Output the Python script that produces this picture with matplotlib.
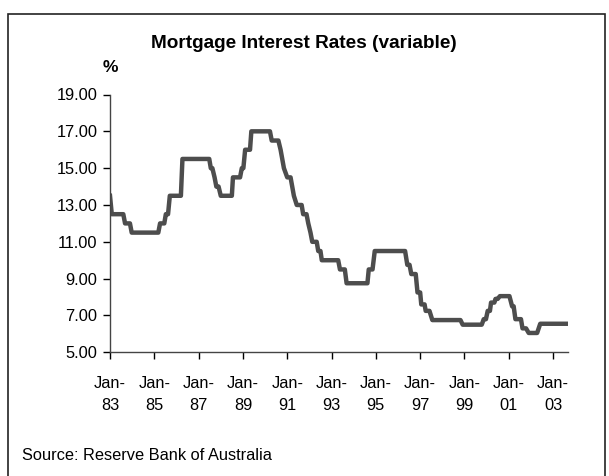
import matplotlib.pyplot as plt
from matplotlib.patches import Rectangle

plt.rcParams['font.family'] = ['Liberation Sans', 'DejaVu Sans']

# decimal year, rate (%)
dates = [1983.0, 1983.08, 1983.6, 1983.68, 1983.9, 1983.98, 1985.18, 1985.26,
         1985.45, 1985.52, 1985.62, 1985.7, 1986.2, 1986.27, 1987.48, 1987.55,
         1987.62, 1987.72, 1987.8, 1987.9, 1988.0, 1988.5, 1988.55, 1988.87,
         1988.95, 1989.02, 1989.1, 1989.32, 1989.38, 1990.22, 1990.3, 1990.6,
         1990.7, 1990.85, 1991.0, 1991.15, 1991.3, 1991.43, 1991.65, 1991.72,
         1991.87, 1991.95, 1992.05, 1992.13, 1992.33, 1992.4, 1992.5, 1992.56,
         1993.3, 1993.38, 1993.6, 1993.68, 1994.62, 1994.68, 1994.85, 1994.95,
         1996.32, 1996.42, 1996.52, 1996.6, 1996.8, 1996.88, 1997.0, 1997.05,
         1997.2, 1997.25, 1997.42, 1997.55, 1998.82, 1998.92, 1999.78, 1999.87,
         1999.97, 2000.05, 2000.15, 2000.2, 2000.35, 2000.4, 2000.5, 2000.6,
         2001.03, 2001.15, 2001.22, 2001.3, 2001.55, 2001.62, 2001.78, 2001.9,
         2002.28, 2002.42, 2003.62]
rates = [13.5, 12.5, 12.5, 12.0, 12.0, 11.5, 11.5, 12.0,
         12.0, 12.5, 12.5, 13.5, 13.5, 15.5, 15.5, 15.0,
         15.0, 14.5, 14.0, 14.0, 13.5, 13.5, 14.5, 14.5,
         15.0, 15.0, 16.0, 16.0, 17.0, 17.0, 16.5, 16.5,
         16.0, 15.0, 14.5, 14.5, 13.5, 13.0, 13.0, 12.5,
         12.5, 12.0, 11.5, 11.0, 11.0, 10.5, 10.5, 10.0,
         10.0, 9.5, 9.5, 8.75, 8.75, 9.5, 9.5, 10.5,
         10.5, 9.75, 9.75, 9.25, 9.25, 8.25, 8.25, 7.6,
         7.6, 7.25, 7.25, 6.75, 6.75, 6.5, 6.5, 6.8,
         6.8, 7.25, 7.25, 7.7, 7.7, 7.9, 7.9, 8.05,
         8.05, 7.5, 7.5, 6.8, 6.8, 6.3, 6.3, 6.05,
         6.05, 6.55, 6.55]

tick_years = [1983, 1985, 1987, 1989, 1991, 1993, 1995, 1997, 1999, 2001, 2003]
tick_labels = ['Jan-\n83', 'Jan-\n85', 'Jan-\n87', 'Jan-\n89', 'Jan-\n91', 'Jan-\n93',
               'Jan-\n95', 'Jan-\n97', 'Jan-\n99', 'Jan-\n01', 'Jan-\n03']
y_ticks = [5, 7, 9, 11, 13, 15, 17, 19]

fig = plt.figure(figsize=(6.09, 4.76), dpi=100)
fig.patches.append(Rectangle((8 / 609, -0.05), 597 / 609, 1.05 - 14 / 476,
                             transform=fig.transFigure, fill=False,
                             edgecolor='#222222', linewidth=1.2))

ax = fig.add_axes([110 / 609, 1 - 352.3 / 476, 457.7 / 609, 257.8 / 476])
ax.plot(dates, rates, color='#4d4d4d', linewidth=3.2, solid_joinstyle='round')

ax.set_xlim(1983.0, 2003.66)
ax.set_ylim(5, 19)
ax.set_xticks(tick_years)
ax.set_xticklabels(tick_labels, fontsize=11.8, linespacing=1.55)
ax.set_yticks(y_ticks)
ax.set_yticklabels(['%.2f' % v for v in y_ticks], fontsize=11.8)
ax.tick_params(axis='both', direction='out', length=5, width=1, color='black')
ax.tick_params(axis='x', pad=12)
ax.tick_params(axis='y', pad=4)
for s in ['top', 'right']:
    ax.spines[s].set_visible(False)
for s in ['left', 'bottom']:
    ax.spines[s].set_color('#444444')
    ax.spines[s].set_linewidth(1)

fig.text(304 / 609, 1 - 43 / 476, 'Mortgage Interest Rates (variable)',
         ha='center', va='center', fontsize=13.7, fontweight='bold')
fig.text(110 / 609, 1 - 67 / 476, '%', ha='center', va='center',
         fontsize=12.5, fontweight='bold')
fig.text(22 / 609, 1 - 456 / 476, 'Source: Reserve Bank of Australia',
         ha='left', va='center', fontsize=11.8)

fig.savefig('out.png', dpi=100)
